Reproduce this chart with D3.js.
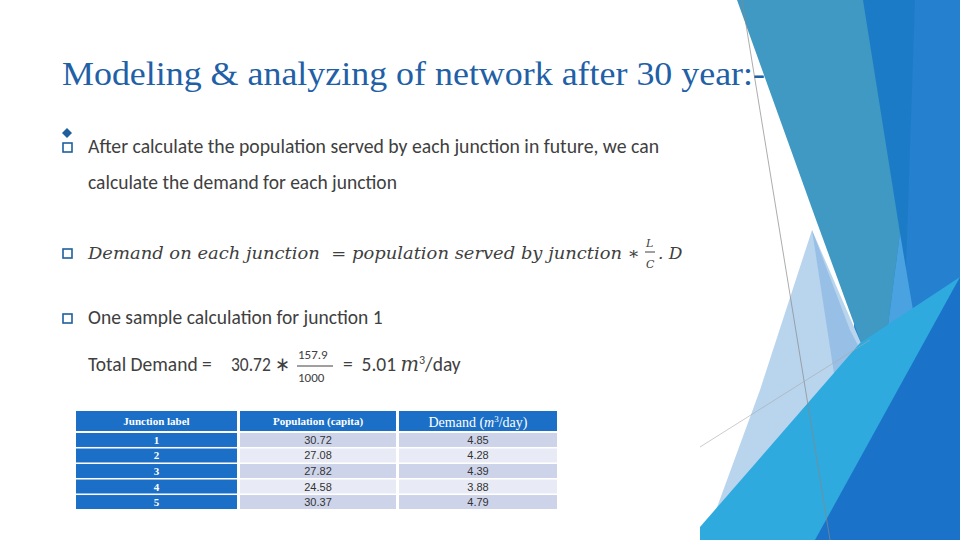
<!DOCTYPE html>
<html><head><meta charset="utf-8">
<script src="https://cdn.jsdelivr.net/npm/d3@7"></script>
<style>body{margin:0;background:#fff}svg{display:block}text{white-space:pre}</style>
</head><body>
<script>
// table data
const columns = ["Junction label", "Population (capita)", "Demand"];
const junctions = ["1", "2", "3", "4", "5"];
const population = [30.72, 27.08, 27.82, 24.58, 30.37];
const demand = [4.85, 4.28, 4.39, 3.88, 4.79];

const width = 960, height = 540;
const svg = d3.select("body").append("svg").attr("width", width).attr("height", height);

// background decoration
const shapes = [
  {p: [[845,0],[960,0],[960,540],[860,540]], c: "#2580cf"},
  {p: [[845,0],[915,0],[905,300],[880,387]], c: "#1c7bc6"},
  {p: [[737,0],[863,0],[900,233],[880,387],[860,340],[815,217]], c: "#3f99c2"},
  {p: [[812,230],[880,387],[860,400],[722,540],[705,540],[760,390]], c: "#b9d5ee"},
  {p: [[812,230],[850,330],[880,387],[862,345],[835,380]], c: "#98c0e6"},
  {p: [[900,233],[918,340],[880,420],[880,387]], c: "#4aa3e0"},
  {p: [[700,527],[860,343],[960,277],[960,290],[817,540],[700,540]], c: "#2eaade"},
  {p: [[960,277],[960,540],[815,540]], c: "#1a72c9"}
];
svg.selectAll("polygon.bg").data(shapes).join("polygon")
  .attr("points", d => d.p.join(" "))
  .attr("fill", d => d.c);
svg.append("line").attr("x1", 742).attr("y1", 0).attr("x2", 830).attr("y2", 540)
  .attr("stroke", "#888").attr("stroke-width", 0.7);
svg.append("line").attr("x1", 700).attr("y1", 447).attr("x2", 870).attr("y2", 340)
  .attr("stroke", "#aaa").attr("stroke-width", 0.6);

// title
svg.append("text").attr("x", 62).attr("y", 85)
  .attr("font-family", "Liberation Serif").attr("font-size", 33).attr("fill", "#2160a6")
  .attr("textLength", 703).attr("lengthAdjust", "spacingAndGlyphs")
  .text("Modeling & analyzing of network after 30 year:-");

// bullets
const body = "Carlito, 'Open Sans', sans-serif";
function bullet(y) {
  svg.append("rect").attr("x", 63).attr("y", y - 10).attr("width", 9).attr("height", 9)
    .attr("fill", "none").attr("stroke", "#1f5f9e").attr("stroke-width", 1.6);
}
bullet(153);
svg.append("path").attr("d", "M67,128 l5,5 l-5,5 l-5,-5z").attr("fill", "#1f5f9e");
bullet(259); bullet(324);
const txt = (x, y, s, o = {}) => {
  const e = svg.append("text").attr("x", x).attr("y", y)
    .attr("font-family", o.f || body).attr("font-size", o.s || 19.5)
    .attr("font-style", o.i ? "italic" : null).attr("fill", "#404040").text(s);
  if (o.w) e.attr("textLength", o.w).attr("lengthAdjust", "spacingAndGlyphs");
  return e;
};
txt(88, 153, "After calculate the population served by each junction in future, we can", {w: 571});
txt(88, 189, "calculate the demand for each junction");
txt(88, 259, "Demand on each junction  = population served by junction ∗", {f: "DejaVu Serif", i: 1, s: 17, w: 552});
txt(646, 247, "L", {f: "DejaVu Serif", i: 1, s: 11});
txt(646, 268, "C", {f: "DejaVu Serif", i: 1, s: 11});
svg.append("line").attr("x1", 645).attr("x2", 655).attr("y1", 252).attr("y2", 252).attr("stroke", "#404040");
txt(658, 259, ". D", {f: "DejaVu Serif", i: 1, s: 17});
txt(88, 324, "One sample calculation for junction 1");
txt(88, 371, "Total Demand =");
txt(231, 371, "30.72 ∗", {w: 59});
txt(298, 359, "157.9", {s: 13});
txt(298, 382, "1000", {s: 13});
svg.append("line").attr("x1", 297).attr("x2", 333).attr("y1", 366).attr("y2", 366).attr("stroke", "#404040");
const t = txt(343, 371, "=  5.01 ");
t.append("tspan").attr("font-family", "DejaVu Serif").attr("font-style", "italic").text("m");
t.append("tspan").attr("dy", -7).attr("font-size", 12).text("3");
t.append("tspan").attr("dy", 7).text("/day");

// table
const colX = d3.scaleOrdinal().domain(columns).range([76, 240, 399]);
const colW = d3.scaleOrdinal().domain(columns).range([161, 156, 158]);
const rowY = d3.scaleBand().domain(junctions).range([433, 509]).paddingInner(0.1);
const tf = "Liberation Serif";

svg.selectAll("rect.h").data(columns).join("rect")
  .attr("x", d => colX(d)).attr("y", 411).attr("width", d => colW(d)).attr("height", 20)
  .attr("fill", "#1b6fc6");
const ht = svg.selectAll("text.h").data(columns).join("text")
  .attr("x", d => colX(d) + colW(d) / 2).attr("y", 425).attr("text-anchor", "middle")
  .attr("font-family", tf).attr("font-size", 11).attr("font-weight", "bold").attr("fill", "#fff")
  .text(d => d === "Demand" ? null : d);
const dh = ht.filter(d => d === "Demand").attr("font-size", 14).attr("font-weight", null).attr("y", 427);
dh.append("tspan").text("Demand (");
dh.append("tspan").attr("font-style", "italic").text("m");
dh.append("tspan").attr("dy", -5).attr("font-size", 9).text("3");
dh.append("tspan").attr("dy", 5).text("/day)");

const rows = junctions.map((j, i) => ({j, i, vals: [j, population[i].toFixed(2), demand[i].toFixed(2)]}));
rows.forEach(r => {
  columns.forEach((c, k) => {
    svg.append("rect").attr("x", colX(c)).attr("y", rowY(r.j)).attr("width", colW(c)).attr("height", rowY.bandwidth())
      .attr("fill", k === 0 ? "#1b6fc6" : (r.i % 2 === 0 ? "#cdd4ea" : "#e8ebf5"));
    svg.append("text").attr("x", colX(c) + colW(c) / 2).attr("y", rowY(r.j) + rowY.bandwidth() / 2 + 4)
      .attr("text-anchor", "middle").attr("font-size", 11)
      .attr("font-family", k === 0 ? tf : "Liberation Sans")
      .attr("font-weight", k === 0 ? "bold" : null)
      .attr("fill", k === 0 ? "#fff" : "#333").text(r.vals[k]);
  });
});
</script>
</body></html>
